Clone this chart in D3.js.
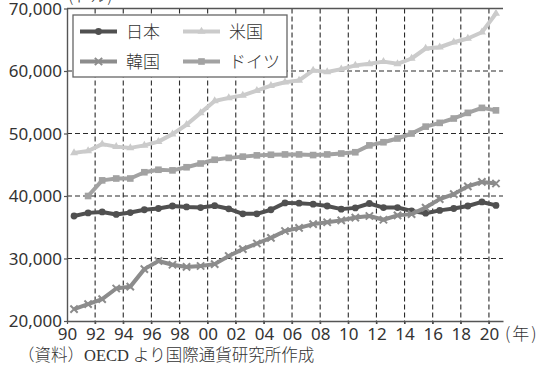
<!DOCTYPE html>
<html>
<head>
<meta charset="utf-8">
<script src="https://cdn.jsdelivr.net/npm/d3@7"></script>
<style>
  html, body { margin: 0; padding: 0; background: #fff; }
  svg { display: block; }
  .num { font-family: "Noto Sans", "DejaVu Sans", sans-serif; font-size: 17px; fill: #333; }
  .jp { font-family: "Noto Sans CJK JP", sans-serif; fill: #333; font-weight: 300; }
</style>
</head>
<body>
<svg id="chart" width="545" height="366"></svg>
<script>
// Per-capita GDP (USD), 1990–2020
const years = d3.range(1990, 2021);
const japan = [36800, 37300, 37450, 37050, 37350, 37800, 38000, 38400, 38250, 38150,
  38450, 37950, 37150, 37150, 37800, 38900, 38850, 38700, 38400, 37900,
  38100, 38800, 38150, 38150, 37600, 37250, 37700, 38000, 38400, 39050, 38500];
const korea = [21900, 22700, 23500, 25200, 25500, 28300, 29600, 29000, 28650, 28800,
  29100, 30400, 31500, 32400, 33300, 34400, 34900, 35500, 35800, 36100,
  36550, 36800, 36200, 36900, 37100, 38150, 39500, 40300, 41550, 42250, 42000];
const usa = [46900, 47200, 48300, 47900, 47700, 48100, 48700, 49900, 51400, 53300,
  55200, 55700, 56100, 56850, 57650, 58200, 58500, 60100, 59850, 60300,
  60900, 61150, 61500, 61150, 62000, 63600, 63800, 64600, 65200, 66200, 69200];
// Germany series begins in 1991
const germany = [null, 40000, 42500, 42800, 42800, 43800, 44200, 44100, 44600, 45200,
  45800, 46100, 46300, 46500, 46600, 46650, 46650, 46550, 46650, 46800,
  47000, 48100, 48600, 49200, 50000, 51100, 51700, 52400, 53300, 54100, 53700];

const seriesNames = ["日本", "韓国", "米国", "ドイツ"];
const yTicks = [20000, 30000, 40000, 50000, 60000, 70000];
const xTicks = d3.range(1990, 2021, 2);

const series = [
  { name: seriesNames[0], values: japan,   color: "#505050", symbol: d3.symbolCircle,   size: 36, stroke: false },
  { name: seriesNames[1], values: korea,   color: "#8c8c8c", symbol: d3.symbolTimes,    size: 36, stroke: true },
  { name: seriesNames[2], values: usa,     color: "#cbcbcb", symbol: d3.symbolTriangle, size: 28, stroke: false },
  { name: seriesNames[3], values: germany, color: "#a2a2a2", symbol: d3.symbolSquare,   size: 44, stroke: false }
];

const svg = d3.select("#chart");
const x = d3.scaleLinear().domain([1990, 2021]).range([67, 503]);
const y = d3.scaleLinear().domain([20000, 70000]).range([321, 8.5]);
const px = yr => x(yr + 0.5);

// dashed grid
const grid = svg.append("g").attr("stroke", "#2a2a2a").attr("stroke-width", 1.1)
  .attr("stroke-dasharray", "5,3");
grid.selectAll("line.v").data(xTicks.filter(d => d > 1990)).join("line")
  .attr("x1", d => x(d)).attr("x2", d => x(d))
  .attr("y1", y(70000)).attr("y2", y(20000) + 3);
grid.selectAll("line.h").data(yTicks.filter(d => d > 20000 && d < 70000)).join("line")
  .attr("x1", x(1990)).attr("x2", x(2021))
  .attr("y1", d => y(d)).attr("y2", d => y(d));

// frame top
svg.append("line").attr("x1", x(1990)).attr("x2", x(2021))
  .attr("y1", y(70000)).attr("y2", y(70000))
  .attr("stroke", "#555").attr("stroke-width", 1.3);

// axes
const xAxis = svg.append("g").attr("transform", `translate(0,${y(20000)})`)
  .call(d3.axisBottom(x).tickValues(xTicks).tickSize(3).tickSizeOuter(0)
    .tickFormat(d => String(d % 100).padStart(2, "0")));
const yAxis = svg.append("g").attr("transform", `translate(${x(1990)},0)`)
  .call(d3.axisLeft(y).tickValues(yTicks).tickSize(3).tickSizeOuter(0)
    .tickFormat(d3.format(",")));
[xAxis, yAxis].forEach(a => {
  a.select(".domain").attr("stroke", "#555").attr("stroke-width", 1.4);
  a.selectAll(".tick line").attr("stroke", "#555").attr("stroke-width", 1.2);
  a.selectAll("text").attr("class", "num").attr("fill", null);
  a.attr("font-family", null).attr("font-size", null);
});
xAxis.selectAll("text").attr("dy", null).attr("y", 19);
yAxis.selectAll("text").attr("x", -5).attr("dy", "0.33em");

// series lines and markers
const line = d3.line().defined(d => d.v != null).x(d => px(d.yr)).y(d => y(d.v));
series.forEach(s => {
  const pts = years.map((yr, i) => ({ yr, v: s.values[i] }));
  svg.append("path").datum(pts).attr("d", line)
    .attr("fill", "none").attr("stroke", s.color).attr("stroke-width", 4)
    .attr("stroke-linejoin", "round");
  svg.append("g").selectAll("path").data(pts.filter(d => d.v != null)).join("path")
    .attr("transform", d => `translate(${px(d.yr)},${y(d.v)})`)
    .attr("d", d3.symbol(s.symbol, s.size))
    .attr("fill", s.stroke ? "none" : s.color)
    .attr("stroke", s.stroke ? s.color : "none")
    .attr("stroke-width", s.stroke ? 2 : 0);
});

// legend
const lg = svg.append("g");
lg.append("rect").attr("x", 73).attr("y", 15).attr("width", 214).attr("height", 62)
  .attr("fill", "#fff").attr("stroke", "#666").attr("stroke-width", 1.3);
const legendPos = [[80, 31.5], [80, 61.5], [183, 31.5], [183, 61.5]];
series.forEach((s, i) => {
  const [lx, ly] = legendPos[i];
  lg.append("line").attr("x1", lx).attr("x2", lx + 37).attr("y1", ly).attr("y2", ly)
    .attr("stroke", s.color).attr("stroke-width", 4);
  lg.append("path").attr("transform", `translate(${lx + 18.5},${ly})`)
    .attr("d", d3.symbol(s.symbol, s.size))
    .attr("fill", s.stroke ? "none" : s.color)
    .attr("stroke", s.stroke ? s.color : "none")
    .attr("stroke-width", s.stroke ? 2 : 0);
  lg.append("text").attr("class", "jp").attr("x", lx + 46).attr("y", ly)
    .attr("dy", "0.36em").attr("font-size", 17).text(s.name);
});

// unit labels and source note
svg.append("text").attr("class", "jp").attr("x", 68).attr("y", 2)
  .attr("font-size", 17).text("(ドル)");
svg.append("text").attr("class", "jp").attr("x", 505).attr("y", 340)
  .attr("font-size", 17).attr("letter-spacing", 2).text("(年)");
svg.append("text").attr("class", "jp").attr("x", 18).attr("y", 361)
  .attr("font-size", 16.5)
  .style("font-family", '"Liberation Serif", "Noto Sans CJK JP", serif')
  .text("（資料）OECD より国際通貨研究所作成");
</script>
</body>
</html>
